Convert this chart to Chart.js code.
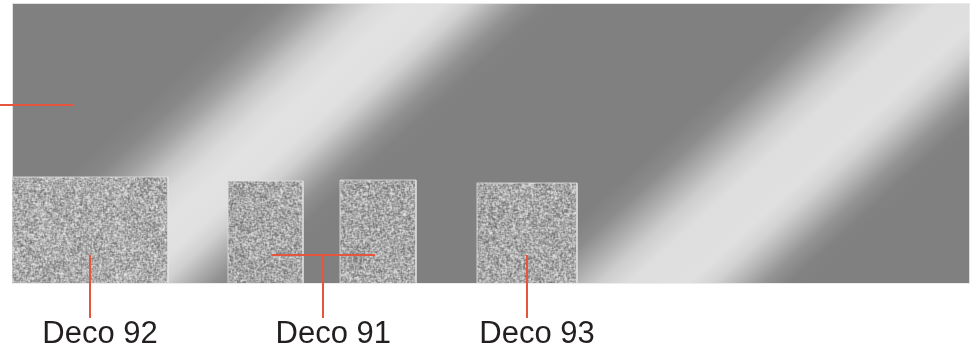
<!DOCTYPE html>
<html lang="en">
<head>
  <meta charset="UTF-8">
  <title>Deco panels</title>
  <style>
    body { margin: 0; background: #fff; }
    #wrap { width: 976px; height: 351px; }
  </style>
  <script src="https://cdn.jsdelivr.net/npm/chart.js"></script>
</head>
<body>
<div id="wrap"><canvas id="myChart"></canvas></div>
<script>
  // panels along the strip (x in px-like units from the left edge, heights from the bottom)
  const barLeft   = [0, 216, 328, 465];
  const barRight  = [156, 291, 404, 565];
  const barHeight = [106, 102, 103, 100];

  // callouts: label and which panels it points at
  const calloutLabels = ['Deco 92', 'Deco 91', 'Deco 93'];
  const calloutBars   = [[0], [1, 2], [3]];

  const LEADER = '#e8553f';

  // speckled texture for the panels (pseudo random, only styling)
  function makeNoise(mean, seed0) {
    let seed = seed0;
    const rnd = () => {
      seed |= 0; seed = seed + 0x6D2B79F5 | 0;
      let t = Math.imul(seed ^ seed >>> 15, 1 | seed);
      t = t + Math.imul(t ^ t >>> 7, 61 | t) ^ t;
      return ((t ^ t >>> 14) >>> 0) / 4294967296;
    };
    const N = 160;
    const raw = new Float32Array(N * N);
    for (let i = 0; i < raw.length; i++) raw[i] = rnd() - 0.5;
    const c = document.createElement('canvas');
    c.width = N; c.height = N;
    const g = c.getContext('2d');
    const img = g.createImageData(N, N);
    for (let y = 0; y < N; y++) {
      for (let x = 0; x < N; x++) {
        const at = (xx, yy) => raw[((yy + N) % N) * N + ((xx + N) % N)];
        const b = 0.4 * at(x, y) + 0.15 * (at(x + 1, y) + at(x - 1, y) + at(x, y + 1) + at(x, y - 1));
        const v = Math.max(100, Math.min(240, mean + b * 140));
        const i = (y * N + x) * 4;
        img.data[i] = img.data[i + 1] = img.data[i + 2] = v;
        img.data[i + 3] = 255;
      }
    }
    g.putImageData(img, 0, 0);
    return g.createPattern(c, 'repeat');
  }

  const datasets = barLeft.map((x0, i) => ({
    data: [
      { x: x0, y: 0 }, { x: x0, y: barHeight[i] },
      { x: barRight[i], y: barHeight[i] }, { x: barRight[i], y: 0 }
    ],
    fill: 'origin',
    backgroundColor: makeNoise(i === 0 ? 172 : 168, 1000 + i * 77),
    borderColor: 'rgba(225,225,225,0.8)',
    borderWidth: 1,
    pointRadius: 0,
    tension: 0
  }));

  const backdrop = {
    id: 'backdrop',
    beforeDatasetsDraw(chart) {
      const { ctx, chartArea: a } = chart;
      ctx.save();
      // diagonal light bands, s = x + 1.1*y
      const S = 1300, k = 1.1;
      const L = S / (1 + k * k);
      const grad = ctx.createLinearGradient(0, 0, L, k * L);
      const stops = [
        [0, 128], [260, 128], [290, 136], [320, 160], [350, 195], [380, 218], [410, 226], [450, 224],
        [475, 208], [500, 175], [525, 145], [550, 130], [570, 128],
        [820, 128], [850, 140], [880, 172], [910, 205], [940, 222], [1000, 224],
        [1025, 210], [1050, 180], [1075, 148], [1100, 130], [1120, 128], [1300, 128]
      ];
      stops.forEach(([s, v]) => grad.addColorStop(s / S, `rgb(${v},${v},${v})`));
      ctx.fillStyle = grad;
      ctx.fillRect(a.left, a.top, a.right - a.left, a.bottom - a.top);
      ctx.strokeStyle = 'rgba(235,235,235,0.9)';
      ctx.lineWidth = 1;
      ctx.strokeRect(a.left + 0.5, a.top + 0.5, a.right - a.left - 1, a.bottom - a.top);
      ctx.restore();
    }
  };

  const callouts = {
    id: 'callouts',
    afterDatasetsDraw(chart) {
      const { ctx } = chart;
      const xs = chart.scales.x, ys = chart.scales.y;
      const anchorY = ys.getPixelForValue(28);
      const lineEnd = 318;
      ctx.save();
      ctx.strokeStyle = LEADER;
      ctx.lineWidth = 2;
      // stray leader on the left
      ctx.beginPath();
      ctx.moveTo(0, ys.getPixelForValue(178));
      ctx.lineTo(74, ys.getPixelForValue(178));
      ctx.stroke();

      ctx.font = '31px "Liberation Sans", Arial, sans-serif';
      ctx.fillStyle = '#231f20';
      ctx.textAlign = 'center';
      ctx.textBaseline = 'alphabetic';
      calloutLabels.forEach((label, k) => {
        const centers = calloutBars[k].map(b => xs.getPixelForValue((barLeft[b] + barRight[b]) / 2));
        let mid = centers[0];
        ctx.beginPath();
        if (centers.length > 1) {
          const lo = Math.min(...centers) + 6, hi = Math.max(...centers) - 3;
          ctx.moveTo(lo, anchorY); ctx.lineTo(hi, anchorY);
          mid = (lo + hi) / 2;
        }
        ctx.moveTo(Math.round(mid), anchorY);
        ctx.lineTo(Math.round(mid), lineEnd);
        ctx.stroke();
        ctx.fillText(label, mid + 10, 343);
      });
      ctx.restore();
    }
  };

  new Chart(document.getElementById('myChart'), {
    type: 'line',
    data: { datasets },
    options: {
      responsive: true,
      maintainAspectRatio: false,
      animation: false,
      layout: { padding: { left: 12, right: 6, top: 3, bottom: 68 } },
      scales: {
        x: { type: 'linear', min: 0, max: 958, display: false },
        y: { min: 0, max: 280, display: false }
      },
      plugins: { legend: { display: false }, tooltip: { enabled: false } }
    },
    plugins: [backdrop, callouts]
  });
</script>
</body>
</html>
